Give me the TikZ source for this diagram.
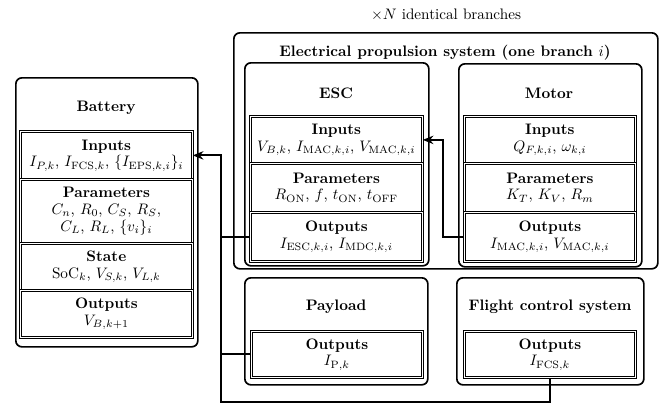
\documentclass[tikz,border=0pt]{standalone}
\usetikzlibrary{arrows.meta}
\def\pxu{0.6579pt}
\tikzset{
  x=0.6579pt, y=-0.6579pt,
  every node/.style={font=\fontsize{10}{11}\selectfont},
  outerbox/.style={draw, line width=1.1pt, rounded corners=4pt, anchor=north west, inner sep=0pt},
  sect/.style={draw, double, double distance=0.7pt, line width=0.5pt, align=center, anchor=north west, inner sep=0pt},
  ttl/.style={font=\fontsize{10}{11}\selectfont\bfseries},
  conn/.style={line width=1.2pt},
  tip/.style={-{Stealth[length=7pt,width=5.5pt]}}
}
\begin{document}
\begin{tikzpicture}
\useasboundingbox (0,0) rectangle (664,408);
% Battery
\node[outerbox, minimum width=182*\pxu, minimum height=269*\pxu] (bat) at (15,77) {};
\node[ttl] (batT) at (106,108) {Battery};
\node[sect, minimum width=172*\pxu, minimum height=48*\pxu] (batIn) at (20,131)
  {\textbf{Inputs}\\ $I_{P,k}$, $I_{\mathrm{FCS},k}$, $\{I_{\mathrm{EPS},k,i}\}_i$};
\node[sect, minimum width=172*\pxu, minimum height=64*\pxu] (batPar) at (20,179)
  {\textbf{Parameters}\\ $C_n$, $R_0$, $C_S$, $R_S$,\\ $C_L$, $R_L$, $\{v_i\}_i$};
\node[sect, minimum width=172*\pxu, minimum height=47*\pxu] (batSt) at (20,243)
  {\textbf{State}\\ $\mathrm{SoC}_k$, $V_{S,k}$, $V_{L,k}$};
\node[sect, minimum width=172*\pxu, minimum height=47*\pxu] (batOut) at (20,290)
  {\textbf{Outputs}\\ $V_{B,k+1}$};
% EPS
\node (nb) at (446,15) {$\times N$ identical branches};
\node[outerbox, minimum width=424*\pxu, minimum height=236*\pxu] (eps) at (233,32) {};
\node[ttl] (epsT) at (445,53) {Electrical propulsion system (one branch $i$)};
% ESC
\node[outerbox, minimum width=184*\pxu, minimum height=203*\pxu] (esc) at (244,62) {};
\node[ttl] (escT) at (336,93) {ESC};
\node[sect, minimum width=172*\pxu, minimum height=47*\pxu] (escIn) at (250,116)
  {\textbf{Inputs}\\ $V_{B,k}$, $I_{\mathrm{MAC},k,i}$, $V_{\mathrm{MAC},k,i}$};
\node[sect, minimum width=172*\pxu, minimum height=49*\pxu] (escPar) at (250,163)
  {\textbf{Parameters}\\ $R_{\mathrm{ON}}$, $f$, $t_{\mathrm{ON}}$, $t_{\mathrm{OFF}}$};
\node[sect, minimum width=172*\pxu, minimum height=49*\pxu] (escOut) at (250,212)
  {\textbf{Outputs}\\ $I_{\mathrm{ESC},k,i}$, $I_{\mathrm{MDC},k,i}$};
% Motor
\node[outerbox, minimum width=183*\pxu, minimum height=203*\pxu] (mot) at (458,63) {};
\node[ttl] (motT) at (549,93) {Motor};
\node[sect, minimum width=171*\pxu, minimum height=47*\pxu] (motIn) at (464,116)
  {\textbf{Inputs}\\ $Q_{F,k,i}$, $\omega_{k,i}$};
\node[sect, minimum width=171*\pxu, minimum height=49*\pxu] (motPar) at (464,163)
  {\textbf{Parameters}\\ $K_T$, $K_V$, $R_m$};
\node[sect, minimum width=171*\pxu, minimum height=49*\pxu] (motOut) at (464,212)
  {\textbf{Outputs}\\ $I_{\mathrm{MAC},k,i}$, $V_{\mathrm{MAC},k,i}$};
% Payload
\node[outerbox, minimum width=183*\pxu, minimum height=107*\pxu] (pl) at (244,277) {};
\node[ttl] (plT) at (336,307) {Payload};
\node[sect, minimum width=171*\pxu, minimum height=46*\pxu] (plOut) at (251,331)
  {\textbf{Outputs}\\ $I_{\mathrm{P},k}$};
% FCS
\node[outerbox, minimum width=187*\pxu, minimum height=107*\pxu] (fcs) at (456,277) {};
\node[ttl] (fcsT) at (550,307) {Flight control system};
\node[sect, minimum width=171*\pxu, minimum height=46*\pxu] (fcsOut) at (464,331)
  {\textbf{Outputs}\\ $I_{\mathrm{FCS},k}$};
% connectors
\coordinate (jn) at (221,402);
\coordinate (mj) at (443,0);
\draw[conn, tip] (fcsOut.south) |- (jn) |- (batIn.east);
\draw[conn] (escOut.west) -- (escOut.west -| jn);
\draw[conn] (plOut.west) -- (plOut.west -| jn);
\draw[conn, tip] (motOut.west) -- (motOut.west -| mj) |- (escIn.east);
\end{tikzpicture}
\end{document}
